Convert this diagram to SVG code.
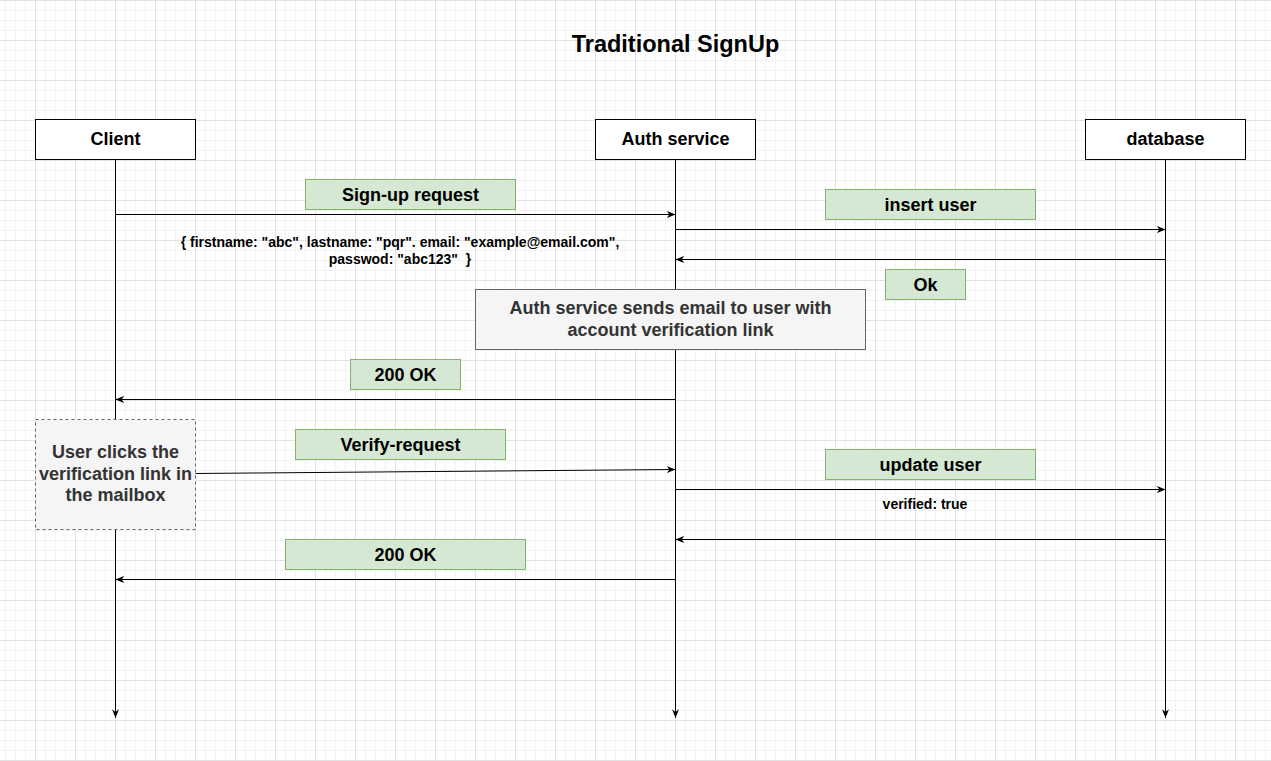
<svg xmlns="http://www.w3.org/2000/svg" width="1271" height="761" viewBox="0 0 1271 761">
  <defs>
    <pattern id="grid" patternUnits="userSpaceOnUse" x="-5" y="0" width="40" height="40">
      <rect x="10" y="0" width="1" height="40" fill="#f2f2f2"/>
      <rect x="20" y="0" width="1" height="40" fill="#f2f2f2"/>
      <rect x="30" y="0" width="1" height="40" fill="#f2f2f2"/>
      <rect x="0" y="10" width="40" height="1" fill="#f2f2f2"/>
      <rect x="0" y="20" width="40" height="1" fill="#f2f2f2"/>
      <rect x="0" y="30" width="40" height="1" fill="#f2f2f2"/>
      <rect x="0" y="0" width="1" height="40" fill="#e2e2e2"/>
      <rect x="0" y="0" width="40" height="1" fill="#e2e2e2"/>
    </pattern>
    <marker id="arr" viewBox="0 0 10 8" refX="10" refY="4" markerWidth="9" markerHeight="7" markerUnits="userSpaceOnUse" orient="auto">
      <path d="M0,0 L10,4 L0,8 L3,4 z" fill="#000"/>
    </marker>
  </defs>
  <style>
    text { font-family: "Liberation Sans", Arial, Helvetica, sans-serif; font-weight: bold; text-anchor: middle; }
    .actor { fill: #ffffff; stroke: #000000; stroke-width: 1; }
    .actor-t { font-size: 18px; fill: #000; }
    .lbl { fill: #d5e8d4; stroke: #82b366; stroke-width: 1; }
    .lbl-t { font-size: 18px; fill: #000; }
    .note { fill: #f5f5f5; stroke: #666666; stroke-width: 1; }
    .note-t { font-size: 18px; fill: #333333; }
    .small { font-size: 14px; fill: #000; }
    .msg { stroke: #000; stroke-width: 1; fill: none; marker-end: url(#arr); }
  </style>
  <rect x="0" y="0" width="1271" height="761" fill="#ffffff"/>
  <rect x="0" y="0" width="1271" height="761" fill="url(#grid)"/>

  <text x="675.5" y="52" style="font-size:23.5px" fill="#000">Traditional SignUp</text>

  <g id="connectors">
    <line class="msg" x1="115.5" y1="160" x2="115.5" y2="718"/>
    <line class="msg" x1="675.5" y1="160" x2="675.5" y2="718"/>
    <line class="msg" x1="1165.5" y1="160" x2="1165.5" y2="718"/>
    <line class="msg" x1="115.5" y1="214.5" x2="675.5" y2="214.5"/>
    <line class="msg" x1="675.5" y1="229.5" x2="1165.5" y2="229.5"/>
    <line class="msg" x1="1165.5" y1="259.5" x2="675.5" y2="259.5"/>
    <line class="msg" x1="675.5" y1="399.5" x2="115.5" y2="399.5"/>
    <line class="msg" x1="195" y1="473.5" x2="675.5" y2="469.5"/>
    <line class="msg" x1="675.5" y1="489.5" x2="1165.5" y2="489.5"/>
    <line class="msg" x1="1165.5" y1="539.5" x2="675.5" y2="539.5"/>
    <line class="msg" x1="675.5" y1="579.5" x2="115.5" y2="579.5"/>
  </g>

  <g id="client">
    <rect class="actor" x="35.5" y="119.5" width="160" height="40"/>
    <text class="actor-t" x="115.5" y="145">Client</text>
  </g>
  <g id="auth">
    <rect class="actor" x="595.5" y="119.5" width="160" height="40"/>
    <text class="actor-t" x="675.5" y="145">Auth service</text>
  </g>
  <g id="database">
    <rect class="actor" x="1085.5" y="119.5" width="160" height="40"/>
    <text class="actor-t" x="1165.5" y="145">database</text>
  </g>

  <g id="signup-label">
    <rect class="lbl" x="305.5" y="179.5" width="210" height="30"/>
    <text class="lbl-t" x="410.5" y="200.5">Sign-up request</text>
  </g>
  <g id="signup-payload">
    <text class="small" x="400" y="247">{ firstname: "abc", lastname: "pqr". email: "example@email.com",</text>
    <text class="small" x="400" y="263.5" xml:space="preserve">passwod: "abc123"  }</text>
  </g>
  <g id="insert-label">
    <rect class="lbl" x="825.5" y="189.5" width="210" height="30"/>
    <text class="lbl-t" x="930.5" y="210.5">insert user</text>
  </g>
  <g id="ok-label">
    <rect class="lbl" x="885.5" y="269.5" width="80" height="30"/>
    <text class="lbl-t" x="925.5" y="290.5">Ok</text>
  </g>
  <g id="email-note">
    <rect class="note" x="475.5" y="289.5" width="390" height="60"/>
    <text class="note-t" x="670.5" y="313.5">Auth service sends email to user with</text>
    <text class="note-t" x="670.5" y="335.5">account verification link</text>
  </g>
  <g id="ok200-1">
    <rect class="lbl" x="350.5" y="359.5" width="110" height="30"/>
    <text class="lbl-t" x="405.5" y="380.5">200 OK</text>
  </g>
  <g id="user-clicks">
    <rect class="note" x="35.5" y="419.5" width="160" height="110" stroke-dasharray="3 3"/>
    <text class="note-t" x="115.5" y="457.5">User clicks the</text>
    <text class="note-t" x="115.5" y="479.5">verification link in</text>
    <text class="note-t" x="115.5" y="501">the mailbox</text>
  </g>
  <g id="verify-label">
    <rect class="lbl" x="295.5" y="429.5" width="210" height="30"/>
    <text class="lbl-t" x="400.5" y="450.5">Verify-request</text>
  </g>
  <g id="update-label">
    <rect class="lbl" x="825.5" y="449.5" width="210" height="30"/>
    <text class="lbl-t" x="930.5" y="470.5">update user</text>
  </g>
  <g id="verified-payload">
    <text class="small" x="925" y="509">verified: true</text>
  </g>
  <g id="ok200-2">
    <rect class="lbl" x="285.5" y="539.5" width="240" height="30"/>
    <text class="lbl-t" x="405.5" y="560.5">200 OK</text>
  </g>
</svg>
